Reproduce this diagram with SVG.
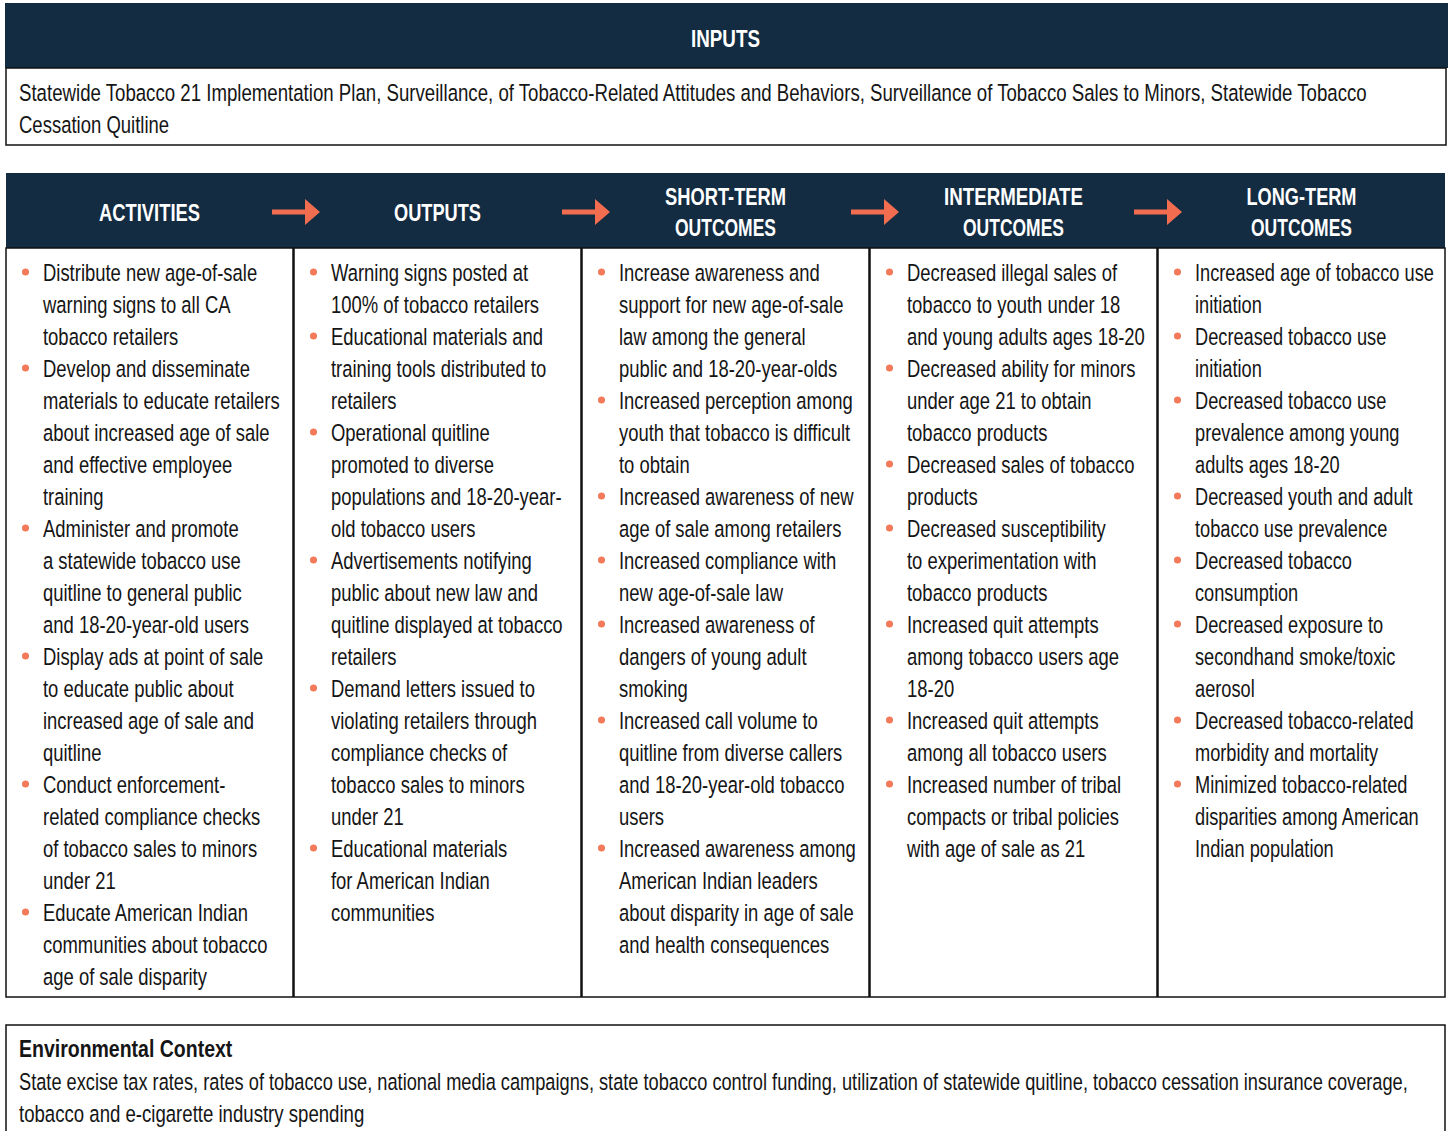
<svg xmlns="http://www.w3.org/2000/svg" width="1448" height="1131" viewBox="0 0 1448 1131">
<style>
.navy{fill:#132c42}
.box{fill:#fff;stroke:#111;stroke-width:1.5}
.div{stroke:#111;stroke-width:2.5}
.hd{font-family:"Liberation Sans",Arial,sans-serif;font-weight:bold;font-size:24px;fill:#fff;text-anchor:middle}
.tx{font-family:"Liberation Sans",Arial,sans-serif;font-size:23.5px;fill:#151515}
.bd{font-family:"Liberation Sans",Arial,sans-serif;font-weight:bold;font-size:23.5px;fill:#151515}
.bl{fill:#f2795a}
.arr{fill:#f26d50}
</style>
<rect width="1448" height="1131" fill="#fff"/>

<g id="inputs">
<rect class="navy" x="5" y="3" width="1443" height="65"/>
<text class="hd" x="725.5" y="47" textLength="69" lengthAdjust="spacingAndGlyphs">INPUTS</text>
<rect class="box" x="6" y="68" width="1440" height="77"/>
<g transform="translate(19,0) scale(0.79,1)">
<text class="tx" x="0" y="101" textLength="1706" lengthAdjust="spacingAndGlyphs">Statewide Tobacco 21 Implementation Plan, Surveillance, of Tobacco-Related Attitudes and Behaviors, Surveillance of Tobacco Sales to Minors, Statewide Tobacco</text>
<text class="tx" x="0" y="133" textLength="190" lengthAdjust="spacingAndGlyphs">Cessation Quitline</text>
</g>
</g>

<g id="header">
<rect class="navy" x="6" y="173" width="1439" height="75"/>
</g>
<rect class="box" x="6" y="248" width="1439" height="749"/>
<g id="dividers">
<line class="div" x1="293.5" y1="248" x2="293.5" y2="997"/>
<line class="div" x1="581.5" y1="248" x2="581.5" y2="997"/>
<line class="div" x1="869.5" y1="248" x2="869.5" y2="997"/>
<line class="div" x1="1157.5" y1="248" x2="1157.5" y2="997"/>
</g>

<g id="activities">
<text class="hd" x="149.5" y="221" textLength="101" lengthAdjust="spacingAndGlyphs">ACTIVITIES</text>
<g class="bl"><circle cx="25.5" cy="272" r="3.5"/><circle cx="25.5" cy="368" r="3.5"/><circle cx="25.5" cy="528" r="3.5"/><circle cx="25.5" cy="656" r="3.5"/><circle cx="25.5" cy="784" r="3.5"/><circle cx="25.5" cy="912" r="3.5"/></g>
<g transform="translate(43,0) scale(0.785,1)">
<text class="tx"><tspan x="0" y="281">Distribute new age-of-sale</tspan><tspan x="0" y="313">warning signs to all CA</tspan><tspan x="0" y="345">tobacco retailers</tspan><tspan x="0" y="377">Develop and disseminate</tspan><tspan x="0" y="409">materials to educate retailers</tspan><tspan x="0" y="441">about increased age of sale</tspan><tspan x="0" y="473">and effective employee</tspan><tspan x="0" y="505">training</tspan><tspan x="0" y="537">Administer and promote</tspan><tspan x="0" y="569">a statewide tobacco use</tspan><tspan x="0" y="601">quitline to general public</tspan><tspan x="0" y="633">and 18-20-year-old users</tspan><tspan x="0" y="665">Display ads at point of sale</tspan><tspan x="0" y="697">to educate public about</tspan><tspan x="0" y="729">increased age of sale and</tspan><tspan x="0" y="761">quitline</tspan><tspan x="0" y="793">Conduct enforcement-</tspan><tspan x="0" y="825">related compliance checks</tspan><tspan x="0" y="857">of tobacco sales to minors</tspan><tspan x="0" y="889">under 21</tspan><tspan x="0" y="921">Educate American Indian</tspan><tspan x="0" y="953">communities about tobacco</tspan><tspan x="0" y="985">age of sale disparity</tspan></text>
</g>
</g>

<g id="outputs">
<text class="hd" x="437.5" y="221" textLength="87" lengthAdjust="spacingAndGlyphs">OUTPUTS</text>
<g class="bl"><circle cx="313.5" cy="272" r="3.5"/><circle cx="313.5" cy="336" r="3.5"/><circle cx="313.5" cy="432" r="3.5"/><circle cx="313.5" cy="560" r="3.5"/><circle cx="313.5" cy="688" r="3.5"/><circle cx="313.5" cy="848" r="3.5"/></g>
<g transform="translate(331,0) scale(0.785,1)">
<text class="tx"><tspan x="0" y="281">Warning signs posted at</tspan><tspan x="0" y="313">100% of tobacco retailers</tspan><tspan x="0" y="345">Educational materials and</tspan><tspan x="0" y="377">training tools distributed to</tspan><tspan x="0" y="409">retailers</tspan><tspan x="0" y="441">Operational quitline</tspan><tspan x="0" y="473">promoted to diverse</tspan><tspan x="0" y="505">populations and 18-20-year-</tspan><tspan x="0" y="537">old tobacco users</tspan><tspan x="0" y="569">Advertisements notifying</tspan><tspan x="0" y="601">public about new law and</tspan><tspan x="0" y="633">quitline displayed at tobacco</tspan><tspan x="0" y="665">retailers</tspan><tspan x="0" y="697">Demand letters issued to</tspan><tspan x="0" y="729">violating retailers through</tspan><tspan x="0" y="761">compliance checks of</tspan><tspan x="0" y="793">tobacco sales to minors</tspan><tspan x="0" y="825">under 21</tspan><tspan x="0" y="857">Educational materials</tspan><tspan x="0" y="889">for American Indian</tspan><tspan x="0" y="921">communities</tspan></text>
</g>
</g>

<g id="short-term">
<text class="hd" x="725.5" y="205" textLength="121" lengthAdjust="spacingAndGlyphs">SHORT-TERM</text>
<text class="hd" x="725.5" y="236" textLength="101" lengthAdjust="spacingAndGlyphs">OUTCOMES</text>
<g class="bl"><circle cx="601.5" cy="272" r="3.5"/><circle cx="601.5" cy="400" r="3.5"/><circle cx="601.5" cy="496" r="3.5"/><circle cx="601.5" cy="560" r="3.5"/><circle cx="601.5" cy="624" r="3.5"/><circle cx="601.5" cy="720" r="3.5"/><circle cx="601.5" cy="848" r="3.5"/></g>
<g transform="translate(619,0) scale(0.785,1)">
<text class="tx"><tspan x="0" y="281">Increase awareness and</tspan><tspan x="0" y="313">support for new age-of-sale</tspan><tspan x="0" y="345">law among the general</tspan><tspan x="0" y="377">public and 18-20-year-olds</tspan><tspan x="0" y="409">Increased perception among</tspan><tspan x="0" y="441">youth that tobacco is difficult</tspan><tspan x="0" y="473">to obtain</tspan><tspan x="0" y="505">Increased awareness of new</tspan><tspan x="0" y="537">age of sale among retailers</tspan><tspan x="0" y="569">Increased compliance with</tspan><tspan x="0" y="601">new age-of-sale law</tspan><tspan x="0" y="633">Increased awareness of</tspan><tspan x="0" y="665">dangers of young adult</tspan><tspan x="0" y="697">smoking</tspan><tspan x="0" y="729">Increased call volume to</tspan><tspan x="0" y="761">quitline from diverse callers</tspan><tspan x="0" y="793">and 18-20-year-old tobacco</tspan><tspan x="0" y="825">users</tspan><tspan x="0" y="857">Increased awareness among</tspan><tspan x="0" y="889">American Indian leaders</tspan><tspan x="0" y="921">about disparity in age of sale</tspan><tspan x="0" y="953">and health consequences</tspan></text>
</g>
</g>

<g id="intermediate">
<text class="hd" x="1013.5" y="205" textLength="139" lengthAdjust="spacingAndGlyphs">INTERMEDIATE</text>
<text class="hd" x="1013.5" y="236" textLength="101" lengthAdjust="spacingAndGlyphs">OUTCOMES</text>
<g class="bl"><circle cx="889.5" cy="272" r="3.5"/><circle cx="889.5" cy="368" r="3.5"/><circle cx="889.5" cy="464" r="3.5"/><circle cx="889.5" cy="528" r="3.5"/><circle cx="889.5" cy="624" r="3.5"/><circle cx="889.5" cy="720" r="3.5"/><circle cx="889.5" cy="784" r="3.5"/></g>
<g transform="translate(907,0) scale(0.785,1)">
<text class="tx"><tspan x="0" y="281">Decreased illegal sales of</tspan><tspan x="0" y="313">tobacco to youth under 18</tspan><tspan x="0" y="345">and young adults ages 18-20</tspan><tspan x="0" y="377">Decreased ability for minors</tspan><tspan x="0" y="409">under age 21 to obtain</tspan><tspan x="0" y="441">tobacco products</tspan><tspan x="0" y="473">Decreased sales of tobacco</tspan><tspan x="0" y="505">products</tspan><tspan x="0" y="537">Decreased susceptibility</tspan><tspan x="0" y="569">to experimentation with</tspan><tspan x="0" y="601">tobacco products</tspan><tspan x="0" y="633">Increased quit attempts</tspan><tspan x="0" y="665">among tobacco users age</tspan><tspan x="0" y="697">18-20</tspan><tspan x="0" y="729">Increased quit attempts</tspan><tspan x="0" y="761">among all tobacco users</tspan><tspan x="0" y="793">Increased number of tribal</tspan><tspan x="0" y="825">compacts or tribal policies</tspan><tspan x="0" y="857">with age of sale as 21</tspan></text>
</g>
</g>

<g id="long-term">
<text class="hd" x="1301.5" y="205" textLength="110" lengthAdjust="spacingAndGlyphs">LONG-TERM</text>
<text class="hd" x="1301.5" y="236" textLength="101" lengthAdjust="spacingAndGlyphs">OUTCOMES</text>
<g class="bl"><circle cx="1177.5" cy="272" r="3.5"/><circle cx="1177.5" cy="336" r="3.5"/><circle cx="1177.5" cy="400" r="3.5"/><circle cx="1177.5" cy="496" r="3.5"/><circle cx="1177.5" cy="560" r="3.5"/><circle cx="1177.5" cy="624" r="3.5"/><circle cx="1177.5" cy="720" r="3.5"/><circle cx="1177.5" cy="784" r="3.5"/></g>
<g transform="translate(1195,0) scale(0.775,1)">
<text class="tx"><tspan x="0" y="281">Increased age of tobacco use</tspan><tspan x="0" y="313">initiation</tspan><tspan x="0" y="345">Decreased tobacco use</tspan><tspan x="0" y="377">initiation</tspan><tspan x="0" y="409">Decreased tobacco use</tspan><tspan x="0" y="441">prevalence among young</tspan><tspan x="0" y="473">adults ages 18-20</tspan><tspan x="0" y="505">Decreased youth and adult</tspan><tspan x="0" y="537">tobacco use prevalence</tspan><tspan x="0" y="569">Decreased tobacco</tspan><tspan x="0" y="601">consumption</tspan><tspan x="0" y="633">Decreased exposure to</tspan><tspan x="0" y="665">secondhand smoke/toxic</tspan><tspan x="0" y="697">aerosol</tspan><tspan x="0" y="729">Decreased tobacco-related</tspan><tspan x="0" y="761">morbidity and mortality</tspan><tspan x="0" y="793">Minimized tobacco-related</tspan><tspan x="0" y="825">disparities among American</tspan><tspan x="0" y="857">Indian population</tspan></text>
</g>
</g>

<g id="connectors" class="arr">
<path d="M272 209.5H305V199L320 212L305 225V214.5H272Z"/>
<path d="M562 209.5H595V199L610 212L595 225V214.5H562Z"/>
<path d="M851 209.5H884V199L899 212L884 225V214.5H851Z"/>
<path d="M1134 209.5H1167V199L1182 212L1167 225V214.5H1134Z"/>
</g>

<g id="environmental-context">
<rect class="box" x="6" y="1025" width="1439" height="110"/>
<g transform="translate(19,0) scale(0.79,1)">
<text class="bd" x="0" y="1057" textLength="270" lengthAdjust="spacingAndGlyphs">Environmental Context</text>
<text class="tx" x="0" y="1090" textLength="1758" lengthAdjust="spacingAndGlyphs">State excise tax rates, rates of tobacco use, national media campaigns, state tobacco control funding, utilization of statewide quitline, tobacco cessation insurance coverage,</text>
<text class="tx" x="0" y="1122" textLength="437" lengthAdjust="spacingAndGlyphs">tobacco and e-cigarette industry spending</text>
</g>
</g>
</svg>
